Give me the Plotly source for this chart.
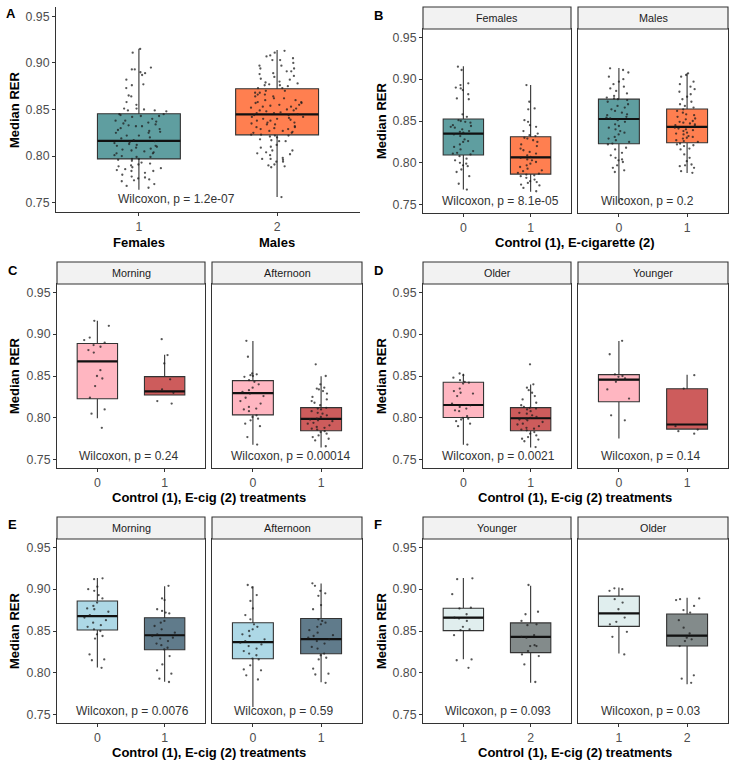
import plotly.graph_objects as go

W, H = 733, 760
FONT = "Liberation Sans, Arial, sans-serif"

# ---------------- data ----------------
# Panel B: individual median RER values, Females / Males, treatment 0 / 1
b_female_0 = [0.915, 0.911, 0.895, 0.893, 0.890, 0.889, 0.887, 0.882, 0.877, 0.876, 0.858, 0.855,
              0.851, 0.850, 0.849, 0.848, 0.845, 0.844, 0.843, 0.842, 0.840, 0.838, 0.837, 0.836,
              0.834, 0.832, 0.828, 0.826, 0.825, 0.822, 0.819, 0.816, 0.814, 0.812, 0.811, 0.810,
              0.808, 0.805, 0.803, 0.800, 0.799, 0.797, 0.796, 0.792, 0.789, 0.784, 0.775, 0.768]
b_female_1 = [0.893, 0.873, 0.865, 0.864, 0.851, 0.849, 0.845, 0.843, 0.838, 0.835, 0.833, 0.832,
              0.830, 0.829, 0.827, 0.825, 0.822, 0.820, 0.817, 0.815, 0.813, 0.811, 0.809, 0.807,
              0.806, 0.804, 0.803, 0.801, 0.799, 0.797, 0.795, 0.793, 0.791, 0.790, 0.788, 0.787,
              0.786, 0.785, 0.784, 0.782, 0.780, 0.778, 0.777, 0.776, 0.774, 0.773, 0.770, 0.766]
b_male_0 = [0.913, 0.911, 0.908, 0.903, 0.900, 0.897, 0.894, 0.891, 0.889, 0.886, 0.883, 0.880, 0.878, 0.877,
            0.876, 0.875, 0.873, 0.870, 0.868, 0.866, 0.864, 0.862, 0.860, 0.858, 0.857, 0.855, 0.854, 0.853,
            0.851, 0.849, 0.846, 0.844, 0.842, 0.840, 0.838, 0.836, 0.834, 0.831, 0.829, 0.827, 0.825, 0.823,
            0.822, 0.818, 0.816, 0.812, 0.809, 0.806, 0.804, 0.803, 0.801, 0.797, 0.794, 0.791, 0.789, 0.756]
b_male_1 = [0.907, 0.905, 0.903, 0.897, 0.894, 0.891, 0.888, 0.885, 0.882, 0.879, 0.876, 0.873, 0.870, 0.868, 0.866,
            0.864, 0.862, 0.860, 0.858, 0.857, 0.855, 0.853, 0.852, 0.850, 0.849, 0.848, 0.847, 0.846, 0.845, 0.844,
            0.842, 0.841, 0.840, 0.839, 0.838, 0.836, 0.835, 0.834, 0.832, 0.831, 0.830, 0.829, 0.827, 0.826, 0.825,
            0.823, 0.822, 0.821, 0.820, 0.817, 0.816, 0.810, 0.806, 0.802, 0.798, 0.797, 0.796, 0.794, 0.790, 0.788]

# Panel C: time of day
c_morning_0 = [0.916, 0.910, 0.896, 0.893, 0.890, 0.887, 0.885, 0.881, 0.878, 0.857, 0.850, 0.847,
               0.838, 0.824, 0.810, 0.805, 0.788]
c_morning_1 = [0.894, 0.875, 0.865, 0.846, 0.834, 0.832, 0.830, 0.820, 0.817]
c_afternoon_0 = [0.892, 0.873, 0.853, 0.852, 0.851, 0.850, 0.849, 0.845, 0.843, 0.840, 0.836, 0.833,
                 0.831, 0.829, 0.826, 0.824, 0.820, 0.817, 0.813, 0.811, 0.810, 0.808, 0.803, 0.801,
                 0.799, 0.797, 0.793, 0.790, 0.777, 0.768]
c_afternoon_1 = [0.864, 0.850, 0.840, 0.836, 0.835, 0.834, 0.832, 0.829, 0.825, 0.822, 0.820, 0.818,
                 0.815, 0.812, 0.811, 0.810, 0.808, 0.806, 0.805, 0.803, 0.801, 0.799, 0.798, 0.797,
                 0.796, 0.794, 0.793, 0.791, 0.789, 0.788, 0.787, 0.786, 0.784, 0.783, 0.781, 0.779,
                 0.777, 0.775, 0.773, 0.766]

# Panel D: age
d_older_0 = [0.853, 0.851, 0.848, 0.845, 0.843, 0.842, 0.841, 0.835, 0.832, 0.830, 0.829, 0.826, 0.817,
             0.815, 0.813, 0.811, 0.809, 0.808, 0.802, 0.800, 0.799, 0.798, 0.796, 0.793, 0.790, 0.768]
d_older_1 = [0.864, 0.840, 0.836, 0.833, 0.830, 0.826, 0.822, 0.818, 0.815, 0.813, 0.812, 0.811, 0.810,
             0.808, 0.806, 0.805, 0.803, 0.801, 0.800, 0.799, 0.798, 0.797, 0.795, 0.793, 0.792, 0.790,
             0.788, 0.787, 0.786, 0.785, 0.783, 0.781, 0.779, 0.777, 0.775, 0.774, 0.772, 0.765]
d_younger_0 = [0.892, 0.876, 0.852, 0.850, 0.849, 0.847, 0.843, 0.834, 0.823, 0.803, 0.797]
d_younger_1 = [0.851, 0.835, 0.790, 0.786, 0.784, 0.781]

# Panel E: time of day (second cohort)
e_morning_0 = [0.913, 0.912, 0.903, 0.900, 0.898, 0.893, 0.889, 0.884, 0.880, 0.877, 0.876, 0.873, 0.869,
               0.866, 0.863, 0.860, 0.857, 0.855, 0.852, 0.850, 0.846, 0.844, 0.841, 0.822, 0.816, 0.815, 0.806]
e_morning_1 = [0.904, 0.889, 0.887, 0.876, 0.874, 0.872, 0.871, 0.862, 0.860, 0.856, 0.852, 0.848, 0.846,
               0.844, 0.842, 0.841, 0.838, 0.835, 0.833, 0.830, 0.828, 0.820, 0.810, 0.803, 0.799, 0.793, 0.789]
e_afternoon_0 = [0.905, 0.902, 0.893, 0.886, 0.877, 0.869, 0.864, 0.858, 0.855, 0.852, 0.850, 0.846, 0.844,
                 0.840, 0.838, 0.836, 0.834, 0.832, 0.829, 0.826, 0.823, 0.821, 0.817, 0.816, 0.809, 0.804,
                 0.803, 0.797, 0.792]
e_afternoon_1 = [0.907, 0.904, 0.898, 0.895, 0.892, 0.881, 0.876, 0.864, 0.862, 0.860, 0.858, 0.855, 0.851,
                 0.848, 0.845, 0.844, 0.842, 0.840, 0.838, 0.835, 0.831, 0.829, 0.823, 0.821, 0.818, 0.816,
                 0.805, 0.799, 0.798, 0.788]

# Panel F: age (second cohort), treatments coded 1 / 2
f_younger_1 = [0.913, 0.912, 0.894, 0.878, 0.877, 0.870, 0.866, 0.865, 0.862, 0.855, 0.852, 0.851,
               0.845, 0.816, 0.815, 0.806]
f_younger_2 = [0.905, 0.873, 0.870, 0.862, 0.858, 0.857, 0.845, 0.843, 0.842, 0.833, 0.832, 0.832,
               0.826, 0.822, 0.820, 0.810, 0.789]
f_older_1 = [0.901, 0.900, 0.898, 0.888, 0.884, 0.876, 0.866, 0.861, 0.858, 0.849, 0.843, 0.822]
f_older_2 = [0.889, 0.888, 0.887, 0.880, 0.875, 0.872, 0.863, 0.854, 0.847, 0.842, 0.840, 0.838,
             0.832, 0.797, 0.793, 0.788]

# Panel A pools panel B by sex
a_females = b_female_0 + b_female_1
a_males = b_male_0 + b_male_1

# Box summaries: [lower whisker, Q1, median, Q3, upper whisker]
stats = {
    "a_females": [0.764, 0.797, 0.8164, 0.8454, 0.9153],
    "a_males": [0.7562, 0.8228, 0.8447, 0.8722, 0.9138],
    "b_female_0": [0.768, 0.8094, 0.835, 0.8524, 0.9156],
    "b_female_1": [0.7655, 0.7865, 0.8066, 0.8311, 0.8931],
    "b_male_0": [0.752, 0.8228, 0.8524, 0.8761, 0.9133],
    "b_male_1": [0.7877, 0.824, 0.843, 0.8643, 0.907],
    "c_morning_0": [0.7995, 0.8228, 0.8674, 0.8888, 0.916],
    "c_morning_1": [0.8272, 0.8272, 0.8315, 0.8493, 0.8753],
    "c_afternoon_0": [0.7679, 0.8035, 0.8295, 0.8445, 0.8919],
    "c_afternoon_1": [0.7646, 0.7845, 0.7987, 0.8122, 0.8497],
    "d_older_0": [0.7679, 0.8003, 0.8153, 0.8426, 0.8528],
    "d_older_1": [0.7646, 0.7845, 0.7995, 0.8122, 0.8398],
    "d_younger_0": [0.7754, 0.8193, 0.8457, 0.8516, 0.8919],
    "d_younger_1": [0.7865, 0.7865, 0.792, 0.8347, 0.8516],
    "e_morning_0": [0.8063, 0.8512, 0.8677, 0.8858, 0.9134],
    "e_morning_1": [0.7894, 0.8276, 0.8449, 0.8658, 0.9035],
    "e_afternoon_0": [0.759, 0.8169, 0.8366, 0.8598, 0.9035],
    "e_afternoon_1": [0.7886, 0.8228, 0.8402, 0.865, 0.9067],
    "f_younger_1": [0.8161, 0.8504, 0.866, 0.8772, 0.9134],
    "f_younger_2": [0.788, 0.8242, 0.843, 0.8597, 0.904],
    "f_older_1": [0.8232, 0.8555, 0.871, 0.8917, 0.902],
    "f_older_2": [0.7864, 0.8321, 0.8444, 0.8703, 0.8897],
}

p_labels = {
    "A": ["Wilcoxon, p = 1.2e-07"],
    "B": ["Wilcoxon, p = 8.1e-05", "Wilcoxon, p = 0.2"],
    "C": ["Wilcoxon, p = 0.24", "Wilcoxon, p = 0.00014"],
    "D": ["Wilcoxon, p = 0.0021", "Wilcoxon, p = 0.14"],
    "E": ["Wilcoxon, p = 0.0076", "Wilcoxon, p = 0.59"],
    "F": ["Wilcoxon, p = 0.093", "Wilcoxon, p = 0.03"],
}

# colours
TEAL, CORAL = "#5F9EA0", "#FF7F50"
PINK, RED = "#FFB6C1", "#CD5C5C"
LBLUE, SLATE = "#ADD8E6", "#607B8B"
AZURE, GREY = "#E0EEEE", "#838B8B"

# ---------------- layout geometry (pixels) ----------------
STRIP = 22
rows_top = [7, 262, 517]
pairs = {"L": [(57, 205), (212, 362)], "R": [(423, 571), (578, 728)]}

facets = [
    (2, pairs["R"][0], 0, "Females", ["0", "1"], [("b_female_0", b_female_0, TEAL), ("b_female_1", b_female_1, CORAL)], 440, "B", 0),
    (3, pairs["R"][1], 0, "Males", ["0", "1"], [("b_male_0", b_male_0, TEAL), ("b_male_1", b_male_1, CORAL)], 599, "B", 1),
    (4, pairs["L"][0], 1, "Morning", ["0", "1"], [("c_morning_0", c_morning_0, PINK), ("c_morning_1", c_morning_1, RED)], 77, "C", 0),
    (5, pairs["L"][1], 1, "Afternoon", ["0", "1"], [("c_afternoon_0", c_afternoon_0, PINK), ("c_afternoon_1", c_afternoon_1, RED)], 229, "C", 1),
    (6, pairs["R"][0], 1, "Older", ["0", "1"], [("d_older_0", d_older_0, PINK), ("d_older_1", d_older_1, RED)], 440, "D", 0),
    (7, pairs["R"][1], 1, "Younger", ["0", "1"], [("d_younger_0", d_younger_0, PINK), ("d_younger_1", d_younger_1, RED)], 599, "D", 1),
    (8, pairs["L"][0], 2, "Morning", ["0", "1"], [("e_morning_0", e_morning_0, LBLUE), ("e_morning_1", e_morning_1, SLATE)], 74, "E", 0),
    (9, pairs["L"][1], 2, "Afternoon", ["0", "1"], [("e_afternoon_0", e_afternoon_0, LBLUE), ("e_afternoon_1", e_afternoon_1, SLATE)], 232, "E", 1),
    (10, pairs["R"][0], 2, "Younger", ["1", "2"], [("f_younger_1", f_younger_1, AZURE), ("f_younger_2", f_younger_2, GREY)], 443, "F", 0),
    (11, pairs["R"][1], 2, "Older", ["1", "2"], [("f_older_1", f_older_1, AZURE), ("f_older_2", f_older_2, GREY)], 599, "F", 1),
]

fig = go.Figure()
layout = dict(width=W, height=H, margin=dict(l=0, r=0, t=0, b=0), paper_bgcolor="white",
              plot_bgcolor="white", showlegend=False, boxmode="overlay",
              font=dict(family=FONT, color="#333333"))
annotations, shapes = [], []


def px(x):
    return x / W


def py(y):
    return 1 - y / H


def text_ann(text, x, y, size, color="black", angle=0, xanchor="center"):
    return dict(text=text, x=px(x), y=py(y), xref="paper", yref="paper", xanchor=xanchor,
                yanchor="middle", textangle=angle, showarrow=False,
                font=dict(family=FONT, size=size, color=color))


def ax_ref(n):
    return ("x", "y") if n == 1 else (f"x{n}", f"y{n}")


def add_group(n, cat, pts, st, fill):
    xr, yr = ax_ref(n)
    lf, q1, med, q3, uf = st
    common = dict(xaxis=xr, yaxis=yr, width=0.6, whiskerwidth=0, showlegend=False, hoverinfo="skip")
    fig.add_trace(go.Box(x=[cat], q1=[q1], median=[med], q3=[q3], lowerfence=[lf], upperfence=[uf],
                         fillcolor=fill, line=dict(color="#333333", width=1.1), boxpoints=False, **common))
    fig.add_trace(go.Box(x=[cat], q1=[med], median=[med], q3=[med], lowerfence=[med], upperfence=[med],
                         fillcolor="rgba(0,0,0,0)", line=dict(color="#111111", width=2.2),
                         boxpoints=False, **common))
    fig.add_trace(go.Box(x=[cat] * len(pts), y=pts, boxpoints="all", jitter=0.67, pointpos=0,
                         fillcolor="rgba(0,0,0,0)", line=dict(color="rgba(0,0,0,0)", width=0),
                         marker=dict(size=2.3, color="rgba(30,30,30,0.75)"), **common))


def yaxis_cfg(top, bottom, anchor, labels):
    return dict(domain=[py(bottom), py(top)], anchor=anchor, range=[0.74, 0.96],
                tickmode="array", tickvals=[0.75, 0.80, 0.85, 0.90, 0.95],
                ticktext=["0.75", "0.80", "0.85", "0.90", "0.95"], showticklabels=labels,
                ticks="outside" if labels else "", ticklen=3, tickcolor="#333333",
                tickfont=dict(family=FONT, size=12.3, color="#4D4D4D"),
                showgrid=False, zeroline=False, showline=True, linecolor="#333333", linewidth=1.1)


def xaxis_cfg(x0, x1, anchor, cats):
    return dict(domain=[px(x0), px(x1)], anchor=anchor, type="category", categoryorder="array",
                categoryarray=cats, range=[-0.6, 1.6], ticks="outside", ticklen=3,
                tickcolor="#333333", tickfont=dict(family=FONT, size=12.3, color="#4D4D4D"),
                showgrid=False, zeroline=False, showline=True, linecolor="#333333", linewidth=1.1)


# ---- Panel A (classic theme, no frame) ----
add_group(1, "1", a_females, stats["a_females"], TEAL)
add_group(1, "2", a_males, stats["a_males"], CORAL)
layout["xaxis"] = xaxis_cfg(56, 360, "y", ["1", "2"])
layout["yaxis"] = yaxis_cfg(7, 212, "x", True)
for i, lab in enumerate(["Females", "Males"]):
    annotations.append(dict(text=f"<b>{lab}</b>", x=i, xref="x", y=py(242), yref="paper",
                            xanchor="center", yanchor="middle", showarrow=False,
                            font=dict(family=FONT, size=13, color="black")))
annotations.append(dict(text=p_labels["A"][0], x=px(116), xref="paper", y=0.754, yref="y",
                        xanchor="left", yanchor="middle", showarrow=False,
                        font=dict(family=FONT, size=12, color="#333333")))

# ---- Facet panels ----
for n, (x0, x1), r, strip_text, cats, groups, plx, letter, k in facets:
    top = rows_top[r]
    ptop, pbot = top + STRIP, top + STRIP + 184
    xr, yr = ax_ref(n)
    for (key, pts, col), cat in zip(groups, cats):
        add_group(n, cat, pts, stats[key], col)
    xa = xaxis_cfg(x0, x1, yr, cats)
    xa["mirror"] = True
    ya = yaxis_cfg(ptop, pbot, xr, k == 0)
    ya["mirror"] = True
    layout[f"xaxis{n}"] = xa
    layout[f"yaxis{n}"] = ya
    shapes.append(dict(type="rect", xref="paper", yref="paper", x0=px(x0), x1=px(x1),
                       y0=py(ptop), y1=py(top), fillcolor="#F2F2F2",
                       line=dict(color="#333333", width=1.1), layer="above"))
    annotations.append(text_ann(strip_text, (x0 + x1) / 2, top + STRIP / 2, 10.8, "#1A1A1A"))
    annotations.append(dict(text=p_labels[letter][k], x=px(plx), xref="paper", y=0.754, yref=yr,
                            xanchor="left", yanchor="middle", showarrow=False,
                            font=dict(family=FONT, size=12, color="#333333")))

# ---- axis titles and panel letters ----
x_titles = [("Control (1), E-cigarette (2)", 575, 242),
            ("Control (1), E-cig (2) treatments", 209, 497),
            ("Control (1), E-cig (2) treatments", 575, 497),
            ("Control (1), E-cig (2) treatments", 209, 752),
            ("Control (1), E-cig (2) treatments", 575, 752)]
for txt, cx, cy in x_titles:
    annotations.append(text_ann(f"<b>{txt}</b>", cx, cy, 13))

y_titles = [(14, 110), (381, 121), (14, 376), (381, 376), (14, 631), (381, 631)]
for cx, cy in y_titles:
    annotations.append(text_ann("<b>Median RER</b>", cx, cy, 13, angle=-90))

letters = [("A", 11, 14), ("B", 378, 15), ("C", 13, 270), ("D", 378, 270), ("E", 12, 524), ("F", 378, 524)]
for t, cx, cy in letters:
    annotations.append(text_ann(f"<b>{t}</b>", cx, cy, 13))

layout["annotations"] = annotations
layout["shapes"] = shapes
fig.update_layout(**layout)
fig.write_html("out.html", config={"displayModeBar": False},
               post_script="document.body.style.margin='0px';document.body.style.overflow='hidden';")
